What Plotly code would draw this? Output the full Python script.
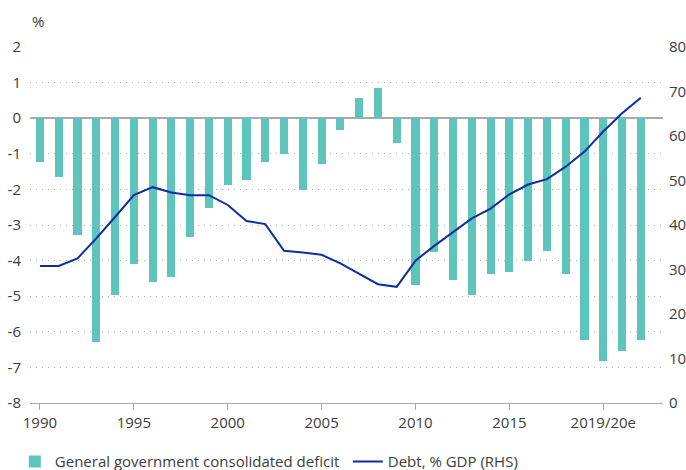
import plotly.graph_objects as go

years = list(range(1990, 2023))
deficit = [-1.22, -1.64, -3.28, -6.30, -4.96, -4.09, -4.59, -4.45, -3.34, -2.53,
           -1.87, -1.73, -1.22, -1.00, -2.01, -1.28, -0.33, 0.57, 0.85, -0.69,
           -4.68, -3.77, -4.54, -4.96, -4.37, -4.32, -4.01, -3.72, -4.37, -6.23,
           -6.82, -6.53, -6.23]
debt = [30.8, 30.8, 32.5, 37.0, 41.8, 46.7, 48.5, 47.3, 46.7, 46.7,
        44.5, 40.9, 40.2, 34.2, 33.8, 33.3, 31.4, 29.0, 26.7, 26.1,
        32.0, 35.3, 38.4, 41.5, 43.7, 46.9, 49.1, 50.3, 53.1, 56.5,
        61.0, 65.1, 68.6]
x_tick_vals = [1990, 1995, 2000, 2005, 2010, 2015, 2020]
x_tick_text = ["1990", "1995", "2000", "2005", "2010", "2015", "2019/20e"]
y_tick_vals = [2, 1, 0, -1, -2, -3, -4, -5, -6, -7, -8]
y_tick_text = ["2", "1", "0", "-1", "-2", "-3", "-4", "-5", "-6", "-7", "-8"]

BAR = "#5ec5bc"
LINE = "#0b2ea3"
TXT = "#3c3c3c"
FONT = "Open Sans"
FS = 15

fig = go.Figure()
fig.add_trace(go.Bar(x=years, y=deficit, name="General government consolidated deficit",
                     marker=dict(color=BAR, line=dict(width=0)), width=0.43, yaxis="y"))
fig.add_trace(go.Scatter(x=years, y=debt, name="Debt, % GDP (RHS)", mode="lines",
                         line=dict(color=LINE, width=2), yaxis="y2"))

fig.update_layout(
    width=686, height=470,
    margin=dict(l=30, r=23, t=47, b=67, autoexpand=False),
    paper_bgcolor="white", plot_bgcolor="white",
    font=dict(family=FONT, size=FS, color=TXT),
    showlegend=True,
    legend=dict(orientation="h", x=-0.024, xanchor="left", y=-0.165, yanchor="middle",
                font=dict(size=FS, color=TXT), entrywidth=288, entrywidthmode="pixels",
                itemwidth=30, borderwidth=0),
    bargap=0,
    xaxis=dict(range=[1989.47, 2023.18], tickvals=x_tick_vals, ticktext=x_tick_text,
               showgrid=False, zeroline=False, showline=True, linecolor="#aaaaaa",
               linewidth=1, ticks="outside", ticklen=6, tickcolor="#aaaaaa",
               tickfont=dict(size=FS, color=TXT)),
    yaxis=dict(range=[-8, 2], tickvals=y_tick_vals, ticktext=y_tick_text,
               showgrid=True, gridcolor="#b0b0b0",
               griddash="1px,5px", gridwidth=1.2, zeroline=True, zerolinecolor="#aaaaaa",
               zerolinewidth=1.5, showline=False, ticks="", ticklabelstandoff=8,
               tickfont=dict(size=FS, color=TXT)),
    yaxis2=dict(range=[0, 80], dtick=10, overlaying="y", side="right", showgrid=False,
                zeroline=False, showline=False, ticks="", ticklabelstandoff=5,
                tickfont=dict(size=FS, color=TXT)),
    annotations=[dict(text="%", xref="paper", yref="paper", x=0.0, y=1.0,
                      yshift=14, xanchor="left", yanchor="bottom", showarrow=False,
                      font=dict(size=FS, color=TXT))],
)

fig.write_html("out.html", config={"displayModeBar": False},
               post_script="document.body.style.margin='0';")
